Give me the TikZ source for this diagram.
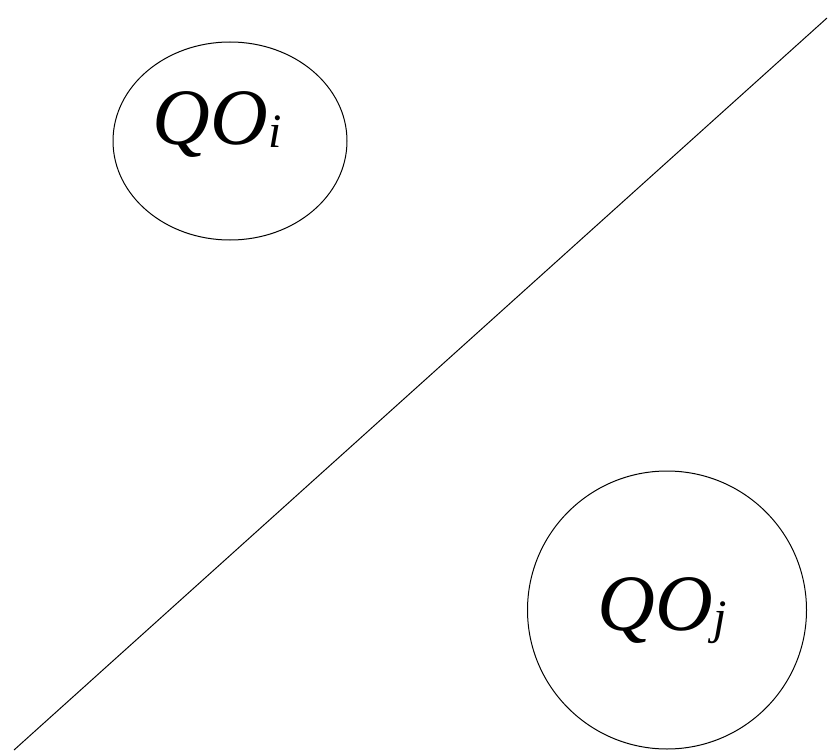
\documentclass[tikz,border=0pt]{standalone}
\usepackage{fontspec}
\setmainfont{Liberation Serif}
\usetikzlibrary{positioning,shapes.geometric}
\newcommand{\qolab}[1]{\itshape QO\raisebox{-3pt}{\fontsize{48}{52}\selectfont #1}}

\begin{document}
\begin{tikzpicture}[x=1pt, y=-1pt]
  \useasboundingbox (0,0) rectangle (828,752);
  \node[ellipse, draw, line width=1pt, minimum width=234pt, minimum height=198pt, inner sep=0pt] (qoi) at (230,141) {};
  \node[ellipse, draw, line width=1pt, minimum width=279pt, minimum height=278pt, inner sep=0pt] (qoj) at (667,610) {};
  \node[anchor=base, inner sep=0pt, font=\fontsize{80}{86}\selectfont] (labi) at (217,144) {\qolab{i}};
  \node[anchor=base, inner sep=0pt, font=\fontsize{80}{86}\selectfont] (labj) at (662,630) {\qolab{j}};
  \coordinate (low) at (14,750);
  \coordinate (high) at (827,18);
  \draw[line width=1pt] (low) -- (high);
\end{tikzpicture}
\end{document}
